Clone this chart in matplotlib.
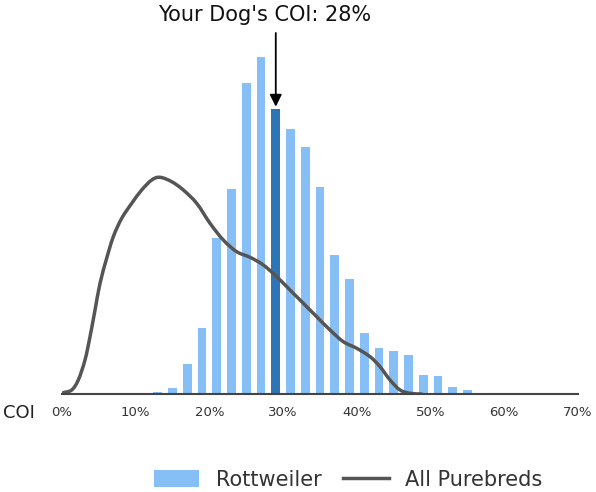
import matplotlib
matplotlib.use("Agg")
import matplotlib.pyplot as plt
from matplotlib.patches import Patch, PathPatch
from matplotlib.lines import Line2D
from matplotlib.path import Path

# Rottweiler COI histogram (bin centers in %, relative heights)
bin_centers = [13, 15, 17, 19, 21, 23, 25, 27, 29, 31, 33, 35, 37, 39,
               41, 43, 45, 47, 49, 51, 53, 55, 57]
rott_heights = [2, 6.3, 29.7, 65.7, 155.7, 205.3, 310.7, 336.7, 285.3, 264.7,
                247.3, 207.3, 139.3, 114.7, 61, 45.7, 43, 39, 19, 17.7, 7.3, 3.7, 1]
your_coi = 28
your_bin = 29

# All purebreds density curve (x in %, relative height)
pure_x = [0, 0.18, 1.32, 2.21, 3.12, 3.80, 4.48, 5.16, 6.06, 6.96, 8.10, 9.46,
          10.81, 12.17, 13.30, 14.88, 16.46, 18.27, 20.08, 21.88, 23.70, 25.51,
          27.31, 29.13, 30.93, 32.74, 34.55, 36.36, 38.16, 39.98, 41.79, 43.14,
          44.50, 45.86, 47.21, 48.80]
pure_y = [0, 1.3, 4, 14, 34, 57.3, 84, 110.7, 135.7, 157.3, 175.7, 190.7,
          204, 214, 216.7, 212.3, 204, 190.7, 170.7, 154, 142.3, 136.7,
          129, 117.3, 104, 90.7, 77.3, 64, 52.3, 45.7, 37.3, 27.3,
          14, 4, 0.7, 0]

xticks = [0, 10, 20, 30, 40, 50, 60, 70]
xticklabels = ["0%", "10%", "20%", "30%", "40%", "50%", "60%", "70%"]

light_blue = "#85bff5"
dark_blue = "#2e75b6"
line_col = "#555555"


def smooth_path(xs, ys):
    """Catmull-Rom curve through the points, expressed as cubic Bezier segments."""
    pts = list(zip(xs, ys))
    verts = [pts[0]]
    codes = [Path.MOVETO]
    n = len(pts)
    for i in range(n - 1):
        p0 = pts[i - 1] if i > 0 else pts[i]
        p1 = pts[i]
        p2 = pts[i + 1]
        p3 = pts[i + 2] if i + 2 < n else pts[i + 1]
        c1 = (p1[0] + (p2[0] - p0[0]) / 6, p1[1] + (p2[1] - p0[1]) / 6)
        c2 = (p2[0] - (p3[0] - p1[0]) / 6, p2[1] - (p3[1] - p1[1]) / 6)
        verts += [c1, c2, p2]
        codes += [Path.CURVE4] * 3
    return Path(verts, codes)


fig = plt.figure(figsize=(5.96, 4.92), dpi=100)
ax = fig.add_axes([62/596, 1 - 394/492, (578-62)/596, (394-40)/492])

colors = [dark_blue if c == your_bin else light_blue for c in bin_centers]
ax.bar(bin_centers, rott_heights, width=1.2, color=colors, edgecolor="none", zorder=2)
ax.add_patch(PathPatch(smooth_path(pure_x, pure_y), fill=False, edgecolor=line_col,
                       lw=2.5, zorder=3, capstyle="round", joinstyle="round"))

ax.set_xlim(0, 70)
ax.set_ylim(0, 354)
for s in ["top", "right", "left"]:
    ax.spines[s].set_visible(False)
ax.spines["bottom"].set_color("#444444")
ax.spines["bottom"].set_linewidth(1.5)
ax.spines["bottom"].set_zorder(4)
ax.set_yticks([])
ax.set_xticks(xticks)
ax.set_xticklabels(xticklabels, fontsize=9.5, color="#333333")
ax.tick_params(axis="x", length=0, pad=9)

idx = bin_centers.index(your_bin)
ax.annotate("", xy=(your_bin, rott_heights[idx] + 2), xytext=(your_bin, 361),
            annotation_clip=False,
            arrowprops=dict(arrowstyle="-|>", color="black", lw=1.3,
                            shrinkA=0, shrinkB=0, mutation_scale=18))
ax.text(your_bin - 1.5, 379, f"Your Dog's COI: {your_coi}%", ha="center", va="center",
        fontsize=15, color="#111111", clip_on=False)

fig.text(3/596, 1 - 413/492, "COI", fontsize=13, color="#222222", va="center", ha="left")

handles = [Patch(facecolor=light_blue, edgecolor="none"),
           Line2D([0], [0], color=line_col, lw=2.5)]
fig.legend(handles, ["Rottweiler", "All Purebreds"], loc="center",
           bbox_to_anchor=(348/596, 1 - 480/492), ncol=2, frameon=False,
           fontsize=15, handlelength=2.2, handleheight=0.9, columnspacing=1.0,
           handletextpad=0.8, labelcolor="#333333")

fig.savefig("out.png", dpi=100)
